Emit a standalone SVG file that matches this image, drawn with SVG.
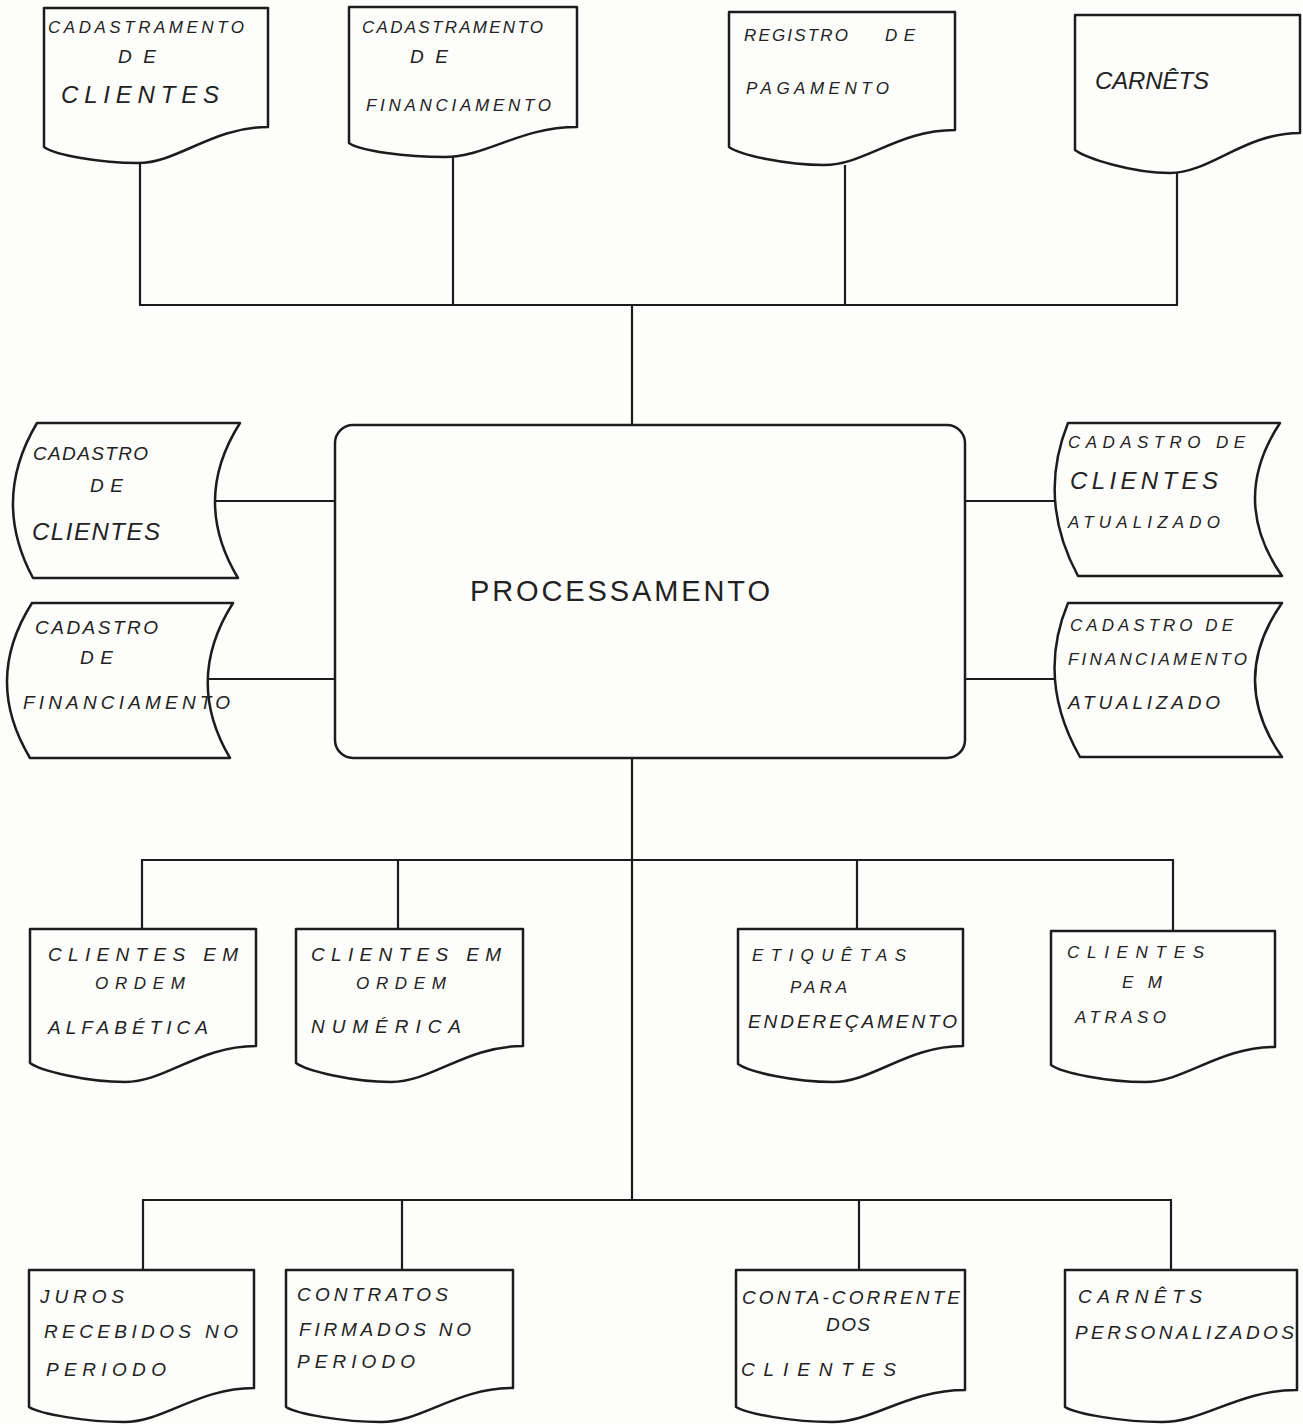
<svg xmlns="http://www.w3.org/2000/svg" width="1303" height="1424" viewBox="0 0 1303 1424">
<style>
.shape{fill:none;stroke:#1c1c1c;stroke-width:2.5;stroke-linejoin:round}
.conn line{stroke:#1c1c1c;stroke-width:2.2}
.lbl{font-family:'Liberation Sans',Arial,sans-serif;font-style:italic;font-size:19px;fill:#222}
.big{font-size:24px}
.sm{font-size:17px}
.proc{font-family:'Liberation Sans',Arial,sans-serif;font-size:29px;fill:#222}
</style>
<rect width="1303" height="1424" fill="#fdfdfb"/>
<g id="connectors" class="conn">
<line x1="140" y1="163" x2="140" y2="305"/>
<line x1="453" y1="157" x2="453" y2="305"/>
<line x1="845" y1="165" x2="845" y2="305"/>
<line x1="1177" y1="173" x2="1177" y2="305"/>
<line x1="139" y1="305" x2="1178" y2="305"/>
<line x1="632" y1="305" x2="632" y2="425"/>
<line x1="215" y1="501" x2="335" y2="501"/>
<line x1="208" y1="679" x2="335" y2="679"/>
<line x1="965" y1="501" x2="1055" y2="501"/>
<line x1="965" y1="679" x2="1055" y2="679"/>
<line x1="632" y1="758" x2="632" y2="1200"/>
<line x1="141" y1="860" x2="1174" y2="860"/>
<line x1="142" y1="860" x2="142" y2="929"/>
<line x1="398" y1="860" x2="398" y2="929"/>
<line x1="857" y1="860" x2="857" y2="929"/>
<line x1="1173" y1="860" x2="1173" y2="931"/>
<line x1="142" y1="1200" x2="1172" y2="1200"/>
<line x1="143" y1="1200" x2="143" y2="1270"/>
<line x1="402" y1="1200" x2="402" y2="1270"/>
<line x1="859" y1="1200" x2="859" y2="1270"/>
<line x1="1171" y1="1200" x2="1171" y2="1270"/>
</g>
<g id="doc-cad-clientes">
<path class="shape" d="M44,8 H268 V127 C212,127 178,163 138,163 C100,163 55,155 44,147 Z"/>
<text class="lbl sm" x="48" y="33" textLength="196">CADASTRAMENTO</text>
<text class="lbl" x="118" y="63" textLength="38">DE</text>
<text class="lbl big" x="61" y="103" textLength="158">CLIENTES</text>
</g>
<g id="doc-cad-financiamento">
<path class="shape" d="M349,7 H577 V127 C520,127 486,157 445,157 C406,157 360,151 349,143 Z"/>
<text class="lbl sm" x="362" y="33" textLength="181">CADASTRAMENTO</text>
<text class="lbl" x="410" y="63" textLength="38">DE</text>
<text class="lbl sm" x="366" y="111" textLength="185">FINANCIAMENTO</text>
</g>
<g id="doc-registro-pagamento">
<path class="shape" d="M729,12 H955 V130 C898,130 865,165 824,165 C786,165 740,155 729,147 Z"/>
<text class="lbl sm" x="744" y="41" textLength="104">REGISTRO</text>
<text class="lbl sm" x="885" y="41" textLength="30">DE</text>
<text class="lbl sm" x="746" y="94" textLength="143">PAGAMENTO</text>
</g>
<g id="doc-carnets">
<path class="shape" d="M1075,15 H1300 V133 C1244,133 1210,173 1170,173 C1131,173 1086,158 1075,150 Z"/>
<text class="lbl big" x="1095" y="89" textLength="114">CARNÊTS</text>
</g>
<g id="disk-cadastro-clientes">
<path class="shape" d="M37,423 H240 Q191,500 238,578 H33 Q-9,500 37,423 Z"/>
<text class="lbl" x="33" y="460" textLength="115">CADASTRO</text>
<text class="lbl" x="90" y="492" textLength="33">DE</text>
<text class="lbl big" x="32" y="540" textLength="128">CLIENTES</text>
</g>
<g id="disk-cadastro-financiamento">
<path class="shape" d="M32,603 H233 Q184,680 230,758 H30 Q-17,680 32,603 Z"/>
<text class="lbl" x="35" y="634" textLength="123">CADASTRO</text>
<text class="lbl" x="80" y="664" textLength="33">DE</text>
<text class="lbl" x="23" y="709" textLength="207">FINANCIAMENTO</text>
</g>
<g id="processamento">
<rect class="shape" x="335" y="425" width="630" height="333" rx="18"/>
<text class="proc" x="470" y="601" textLength="300">PROCESSAMENTO</text>
</g>
<g id="disk-clientes-atualizado">
<path class="shape" d="M1068,423 H1280 Q1229,500 1282,576 H1078 Q1037,500 1068,423 Z"/>
<text class="lbl sm" x="1068" y="448" textLength="177">CADASTRO DE</text>
<text class="lbl big" x="1070" y="489" textLength="148">CLIENTES</text>
<text class="lbl sm" x="1068" y="528" textLength="152">ATUALIZADO</text>
</g>
<g id="disk-financiamento-atualizado">
<path class="shape" d="M1068,603 H1282 Q1228,680 1282,757 H1080 Q1036,680 1068,603 Z"/>
<text class="lbl sm" x="1070" y="631" textLength="163">CADASTRO DE</text>
<text class="lbl sm" x="1068" y="665" textLength="179">FINANCIAMENTO</text>
<text class="lbl" x="1068" y="709" textLength="152">ATUALIZADO</text>
</g>
<g id="doc-clientes-alfabetica">
<path class="shape" d="M30,929 H256 V1046 C199,1046 166,1082 125,1082 C87,1082 41,1071 30,1063 Z"/>
<text class="lbl" x="48" y="961" textLength="190">CLIENTES EM</text>
<text class="lbl sm" x="95" y="989" textLength="90">ORDEM</text>
<text class="lbl" x="48" y="1034" textLength="160">ALFABÉTICA</text>
</g>
<g id="doc-clientes-numerica">
<path class="shape" d="M296,929 H523 V1046 C466,1046 432,1082 391,1082 C353,1082 307,1071 296,1063 Z"/>
<text class="lbl" x="311" y="961" textLength="190">CLIENTES EM</text>
<text class="lbl sm" x="356" y="989" textLength="90">ORDEM</text>
<text class="lbl" x="311" y="1033" textLength="150">NUMÉRICA</text>
</g>
<g id="doc-etiquetas">
<path class="shape" d="M738,929 H963 V1046 C907,1046 873,1082 833,1082 C794,1082 749,1072 738,1064 Z"/>
<text class="lbl sm" x="752" y="961" textLength="154">ETIQUÊTAS</text>
<text class="lbl sm" x="790" y="993" textLength="57">PARA</text>
<text class="lbl" x="748" y="1028" textLength="209">ENDEREÇAMENTO</text>
</g>
<g id="doc-clientes-atraso">
<path class="shape" d="M1051,931 H1275 V1047 C1219,1047 1185,1082 1145,1082 C1107,1082 1062,1073 1051,1065 Z"/>
<text class="lbl sm" x="1067" y="958" textLength="137">CLIENTES</text>
<text class="lbl sm" x="1122" y="988" textLength="40">EM</text>
<text class="lbl sm" x="1075" y="1023" textLength="91">ATRASO</text>
</g>
<g id="doc-juros">
<path class="shape" d="M29,1270 H254 V1388 C198,1388 164,1422 124,1422 C86,1422 40,1414 29,1407 Z"/>
<text class="lbl" x="40" y="1303" textLength="84">JUROS</text>
<text class="lbl" x="44" y="1338" textLength="194">RECEBIDOS NO</text>
<text class="lbl" x="46" y="1376" textLength="120">PERIODO</text>
</g>
<g id="doc-contratos">
<path class="shape" d="M286,1270 H513 V1388 C456,1388 422,1422 381,1422 C343,1422 297,1414 286,1407 Z"/>
<text class="lbl" x="297" y="1301" textLength="151">CONTRATOS</text>
<text class="lbl" x="299" y="1336" textLength="172">FIRMADOS NO</text>
<text class="lbl" x="297" y="1368" textLength="118">PERIODO</text>
</g>
<g id="doc-conta-corrente">
<path class="shape" d="M736,1270 H965 V1390 C908,1390 873,1422 832,1422 C793,1422 747,1414 736,1407 Z"/>
<text class="lbl" x="742" y="1304" textLength="218">CONTA-CORRENTE</text>
<text class="lbl" x="826" y="1331" textLength="44">DOS</text>
<text class="lbl" x="741" y="1376" textLength="155">CLIENTES</text>
</g>
<g id="doc-carnets-personalizados">
<path class="shape" d="M1065,1270 H1297 V1390 C1239,1390 1204,1422 1162,1422 C1123,1422 1076,1414 1065,1407 Z"/>
<text class="lbl" x="1078" y="1303" textLength="124">CARNÊTS</text>
<text class="lbl" x="1075" y="1339" textLength="219">PERSONALIZADOS</text>
</g>
</svg>
